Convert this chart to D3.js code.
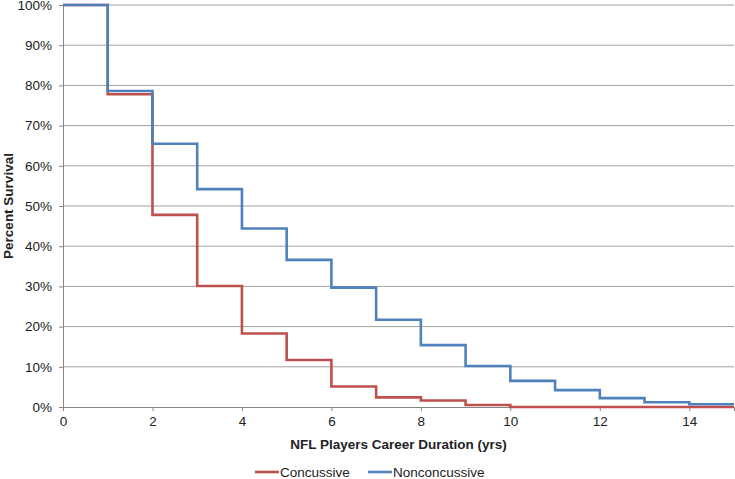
<!DOCTYPE html>
<html>
<head>
<meta charset="utf-8">
<script src="https://cdn.jsdelivr.net/npm/d3@7"></script>
<style>
  body { margin: 0; background: #fff; }
  svg { font-family: "Liberation Sans", Arial, sans-serif; }
</style>
</head>
<body>
<div id="chart"></div>
<script>
// survival fraction at the start of each year (year index = position)
const years = d3.range(0, 16);
const concussive = [1.0, 0.778, 0.478, 0.301, 0.183, 0.117, 0.051, 0.024, 0.016, 0.005, 0.0, 0.0, 0.0, 0.0, 0.0, 0.0];
const nonconcussive = [1.0, 0.786, 0.655, 0.542, 0.444, 0.366, 0.297, 0.217, 0.154, 0.102, 0.065, 0.042, 0.022, 0.012, 0.007, 0.007];
const yTicks = d3.range(0, 1.01, 0.1);
const xTicks = [0, 2, 4, 6, 8, 10, 12, 14];

const width = 735, height = 479;
const margin = { top: 5, right: 1, bottom: 72, left: 63 };
const fontSize = 13.5;

let svg = d3.select("#chart").append("svg")
  .attr("width", width)
  .attr("height", height);

let x = d3.scaleLinear().domain([0, 15]).range([margin.left, width - margin.right]);
let y = d3.scaleLinear().domain([0, 1]).range([height - margin.bottom, margin.top]);

// gridlines
svg.append("g")
  .selectAll("line")
  .data(yTicks.filter(d => d > 0))
  .join("line")
  .attr("x1", x(0)).attr("x2", x(15))
  .attr("y1", d => y(d)).attr("y2", d => y(d))
  .attr("stroke", "#a0a0a0")
  .attr("stroke-width", 1);

// y axis
let yAxis = svg.append("g")
  .attr("transform", `translate(${x(0)},0)`)
  .call(d3.axisLeft(y).tickValues(yTicks).tickFormat(d3.format(".0%")).tickSize(4).tickPadding(7));
yAxis.select(".domain").attr("stroke", "#868686");
yAxis.selectAll(".tick line").attr("stroke", "#868686");
yAxis.selectAll("text").attr("font-size", fontSize).attr("fill", "#222");

// x axis
let xAxis = svg.append("g")
  .attr("transform", `translate(0,${y(0)})`)
  .call(d3.axisBottom(x).tickValues(xTicks).tickFormat(d3.format("d")).tickSize(4).tickPadding(5));
xAxis.select(".domain").attr("stroke", "#868686");
xAxis.selectAll(".tick line").attr("stroke", "#868686");
xAxis.selectAll("text").attr("font-size", fontSize).attr("fill", "#222");

// step lines
let line = d3.line()
  .x((d, i) => x(years[i]))
  .y(d => y(d))
  .curve(d3.curveStepAfter);

const series = [
  { name: "Concussive", values: concussive, color: "#c0504d" },
  { name: "Nonconcussive", values: nonconcussive, color: "#4f81bd" }
];

svg.append("g")
  .selectAll("path")
  .data(series)
  .join("path")
  .attr("d", d => line(d.values))
  .attr("fill", "none")
  .attr("stroke", d => d.color)
  .attr("stroke-width", 2.6);

// axis titles
svg.append("text")
  .attr("x", x(7.5))
  .attr("y", 449)
  .attr("text-anchor", "middle")
  .attr("font-size", fontSize)
  .attr("font-weight", "bold")
  .attr("fill", "#222")
  .text("NFL Players Career Duration (yrs)");

svg.append("text")
  .attr("transform", `translate(13,${y(0.5)}) rotate(-90)`)
  .attr("text-anchor", "middle")
  .attr("font-size", fontSize)
  .attr("font-weight", "bold")
  .attr("fill", "#222")
  .text("Percent Survival");

// legend
let legend = svg.append("g").attr("transform", "translate(255,477)");
let items = legend.selectAll("g")
  .data(series)
  .join("g")
  .attr("transform", (d, i) => `translate(${i * 113},0)`);
items.append("line")
  .attr("x1", 0).attr("x2", 24)
  .attr("y1", -5).attr("y2", -5)
  .attr("stroke", d => d.color)
  .attr("stroke-width", 2.6);
items.append("text")
  .attr("x", 25)
  .attr("y", 0)
  .attr("font-size", fontSize)
  .attr("fill", "#222")
  .text(d => d.name);
</script>
</body>
</html>
